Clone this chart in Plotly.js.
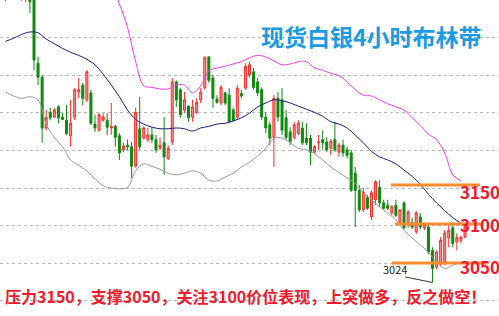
<!DOCTYPE html>
<html><head><meta charset="utf-8">
<script src="https://cdn.plot.ly/plotly-3.0.1.min.js"></script>
<style>html,body{margin:0;padding:0;background:#fff;}#chart{width:499px;height:316px;}</style>
</head><body><div id="chart"></div>
<script>
// 4-hour candles (price)
const openP = [3400,3412,3400,3410,3404,3390,3400,3395,3306,3288, 3223,3243,3237,3250,3237,3233,3213,3237,3269,3278, 3259,3268,3228,3220,3233,3233,3223,3225,3213,3195, 3201,3199,3174,3222,3210,3208,3214,3208,3197,3204, 3184,3205,3282,3272,3246,3251,3237,3243,3259,3275, 3314,3287,3260,3255,3268,3265,3246,3237,3267,3274, 3291,3295,3282,3272,3237,3227,3211,3261,3259,3236, 3218,3211,3216,3223,3210,3210,3192,3204,3208,3205, 3197,3208,3192,3201,3195,3191,3165,3143,3118,3134, 3109,3131,3147,3127,3124,3114,3124,3102,3127,3099, 3102,3090,3109,3095,3096,3066,3045,3050,3050,3082, 3095,3077,3079,3083];
const highP = [3415,3418,3412,3414,3408,3402,3405,3400,3314,3291, 3246,3249,3249,3252,3242,3252,3259,3274,3287,3281, 3297,3272,3240,3242,3242,3242,3255,3227,3216,3204, 3208,3205,3249,3263,3225,3223,3224,3214,3211,3237, 3201,3287,3284,3274,3269,3252,3259,3261,3274,3315, 3315,3291,3265,3278,3269,3274,3249,3278,3272,3306, 3308,3300,3287,3275,3243,3231,3265,3269,3274,3246, 3224,3231,3233,3231,3229,3214,3201,3214,3220,3211, 3209,3231,3204,3208,3199,3195,3173,3150,3146,3137, 3143,3156,3156,3131,3131,3124,3131,3119,3129,3118, 3108,3117,3114,3102,3101,3070,3066,3083,3092,3099, 3102,3088,3085,3099];
const lowP = [3385,3395,3396,3394,3386,3384,3370,3297,3278,3204, 3220,3233,3236,3229,3233,3214,3199,3233,3261,3252, 3256,3227,3218,3218,3231,3214,3214,3199,3182,3192, 3195,3159,3172,3195,3208,3205,3204,3191,3195,3163, 3182,3201,3250,3236,3242,3231,3231,3241,3255,3272, 3281,3249,3254,3252,3252,3229,3231,3233,3261,3272, 3288,3272,3264,3233,3216,3201,3173,3231,3214,3208, 3201,3208,3214,3201,3201,3175,3190,3195,3195,3192, 3188,3192,3186,3186,3184,3141,3096,3115,3115,3118, 3105,3124,3122,3118,3118,3111,3109,3100,3093,3095, 3093,3087,3093,3092,3061,3025,3042,3046,3047,3070, 3070,3066,3075,3082];
const closeP = [3410,3402,3408,3400,3392,3398,3385,3310,3288,3223, 3236,3236,3246,3236,3234,3216,3229,3272,3272,3261, 3295,3229,3223,3240,3237,3224,3225,3211,3191,3200, 3199,3174,3243,3199,3223,3214,3208,3195,3201,3186, 3197,3282,3259,3240,3259,3236,3250,3256,3269,3313, 3284,3261,3256,3275,3255,3231,3233,3274,3264,3302, 3304,3275,3268,3237,3223,3210,3261,3237,3220,3211, 3206,3227,3229,3204,3204,3192,3199,3205,3204,3195, 3206,3195,3201,3191,3188,3143,3143,3118,3141,3120, 3140,3154,3127,3120,3120,3122,3111,3118,3095,3115, 3096,3114,3096,3099,3064,3043,3064,3079,3088,3092, 3075,3083,3083,3096];

// Bollinger bands, read every second candle
const upperBand = [3455,3458,3462,3465,3466,3466,3465,3463,3460,3456,3450,3443,3432,3410,3382,3352,3308,3277,3275,3273,3273,3278,3278,3268,3277,3296,3300,3302,3305,3308,3313,3316,3314,3309,3304,3305,3308,3308,3300,3297,3293,3290,3282,3272,3265,3264,3259,3254,3250,3246,3236,3226,3215,3208,3191,3163,3155];
const midBand = [3334,3338,3343,3346,3345,3337,3331,3325,3320,3316,3311,3304,3292,3278,3263,3246,3234,3228,3224,3222,3222,3223,3222,3219,3223,3225,3228,3229,3232,3236,3242,3250,3255,3259,3258,3255,3251,3247,3243,3238,3231,3228,3223,3214,3204,3193,3186,3182,3177,3169,3161,3151,3138,3127,3117,3108,3101];
const lowerBand = [3269,3264,3261,3263,3259,3228,3211,3199,3182,3175,3168,3158,3149,3146,3145,3147,3168,3177,3174,3170,3165,3163,3165,3168,3165,3156,3155,3160,3165,3173,3179,3187,3197,3210,3210,3204,3197,3195,3190,3182,3173,3166,3159,3152,3140,3131,3122,3114,3105,3092,3082,3073,3064,3051,3043,3047,3051];

const levels = [3150, 3100, 3050];
const lowMark = 3024;
const titleText = '现货白银4小时布林带';
const noteText = '压力3150，支撑3050，关注3100价位表现，上突做多，反之做空！';

const idx = openP.map((_, i) => i);
const bandIdx = upperBand.map((_, k) => 2 * k);
const lowIdx = lowP.indexOf(Math.min(...lowP));

const bandLine = (y, color) => ({type:'scatter', mode:'lines', x: bandIdx, y: y,
  line:{color: color, width: 1, shape:'spline'}, hoverinfo:'skip', showlegend:false});

const traces = [
  bandLine(upperBand, '#f23ef2'),
  bandLine(midBand, '#1c1c80'),
  bandLine(lowerBand, '#9a9a9a'),
  {type:'candlestick', x: idx, open: openP, high: highP, low: lowP, close: closeP,
   increasing:{line:{color:'#ff2a2a', width:1}, fillcolor:'rgba(255,110,110,0.75)'},
   decreasing:{line:{color:'#0e8a0e', width:1}, fillcolor:'#0e8a0e'},
   whiskerwidth:0, hoverinfo:'skip', showlegend:false}
];

const lineSpans = [[94.8,116.7],[95.8,117.2],[95.0,118.4]];
const labelShift = [-7, -1, -4];
const shapes = levels.map((lv, k) => ({type:'line', xref:'x', yref:'y',
  x0: lineSpans[k][0], x1: lineSpans[k][1], y0: lv, y1: lv,
  line:{color:'#ff8c33', width:3}}));
shapes.push({type:'line', xref:'x', yref:'y', x0: 98.3, y0: 3032, x1: lowIdx, y1: lowP[lowIdx],
  line:{color:'#333333', width:1}});

const annotations = [
  {xref:'paper', yref:'paper', x: 0.7435, y: 0.885, xanchor:'center', yanchor:'middle',
   text: titleText, showarrow:false,
   font:{family:'"Noto Sans CJK SC", sans-serif', size:23, color:'#1a9be6', weight:700}},
  {xref:'paper', yref:'paper', x: 0.006, y: 0.063, xanchor:'left', yanchor:'middle',
   text: noteText, showarrow:false,
   font:{family:'"Noto Sans CJK SC", sans-serif', size:16, color:'#f5182c', weight:700}},
  {xref:'x', yref:'y', x: 95.8, y: 3042, xanchor:'center', yanchor:'middle',
   text: String(lowMark), showarrow:false,
   font:{family:'"Noto Sans CJK SC", sans-serif', size:11, color:'#222222'}}
];
levels.forEach((lv, k) => annotations.push({xref:'paper', yref:'y', x: 0.917, y: lv, yshift: labelShift[k],
  xanchor:'left', yanchor:'middle', text: String(lv), showarrow:false,
  font:{family:'"Noto Sans CJK SC", sans-serif', size:17, color:'#f5182c', weight:700}}));

const layout = {
  width: 499, height: 316,
  margin:{l:0, r:0, t:0, b:0, pad:0},
  paper_bgcolor:'#ffffff', plot_bgcolor:'#ffffff',
  showlegend:false,
  xaxis:{type:'linear', range:[-1.36, 121.36], visible:false, rangeslider:{visible:false}, fixedrange:true},
  yaxis:{range:[2982, 3387], showticklabels:false, ticks:'', showgrid:true, gridcolor:'#b8b8b8',
         griddash:'dot', gridwidth:1, tick0:3049.8, dtick:48.1, zeroline:false, showline:false, fixedrange:true},
  shapes: shapes,
  annotations: annotations
};

Plotly.newPlot('chart', traces, layout, {staticPlot:true, displayModeBar:false});
</script></body></html>
